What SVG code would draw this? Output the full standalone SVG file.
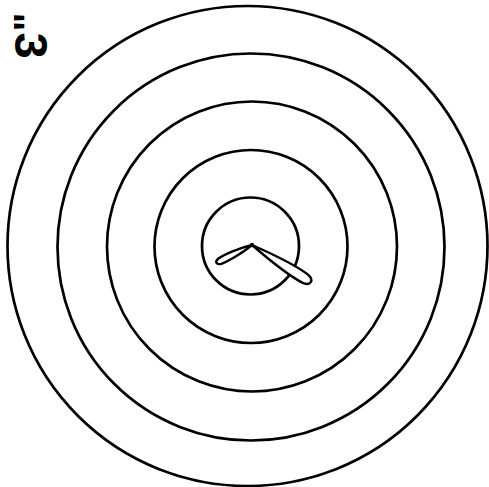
<svg xmlns="http://www.w3.org/2000/svg" width="489" height="487" viewBox="0 0 489 487">
<style>
.ring{fill:none;stroke:#000;stroke-width:2.7}
.blade{fill:#fff;stroke:#000;stroke-width:2.4;stroke-linejoin:round}
.lbl{font-family:"Liberation Sans",Arial,sans-serif;font-weight:bold;fill:#000}
</style>
<rect width="489" height="487" fill="#fff"/>
<g id="rings">
<circle id="ring5" class="ring" cx="247.5" cy="246" r="240"/>
<circle id="ring4" class="ring" cx="251" cy="247" r="193.5"/>
<circle id="ring3" class="ring" cx="252" cy="246.5" r="145"/>
<circle id="ring2" class="ring" cx="251" cy="246.5" r="96.5"/>
<circle id="ring1" class="ring" cx="250.5" cy="246" r="48.5"/>
</g>
<g id="rotor">
<path class="blade" transform="translate(252,245) rotate(32.3)" d="M0,0 C20,-3 48,-6 62,-5 C72,-4 72,4 62,5 C48,6 20,3 0,0 Z"/>
<path class="blade" transform="translate(252,245) rotate(153.4)" d="M0,0 C12,-3 30,-4 36,-3 C41,-2 41,2 36,3 C30,4 12,3 0,0 Z"/>
<circle cx="252" cy="245" r="2.2" fill="#000"/>
</g>
<g id="label">
<text class="lbl" font-size="47" text-anchor="middle" transform="translate(32,45.5) rotate(90)" x="0" y="17">3</text>
<text class="lbl" font-size="40" text-anchor="middle" transform="translate(42,22) rotate(-90)" x="0" y="0">"</text>
</g>
</svg>
